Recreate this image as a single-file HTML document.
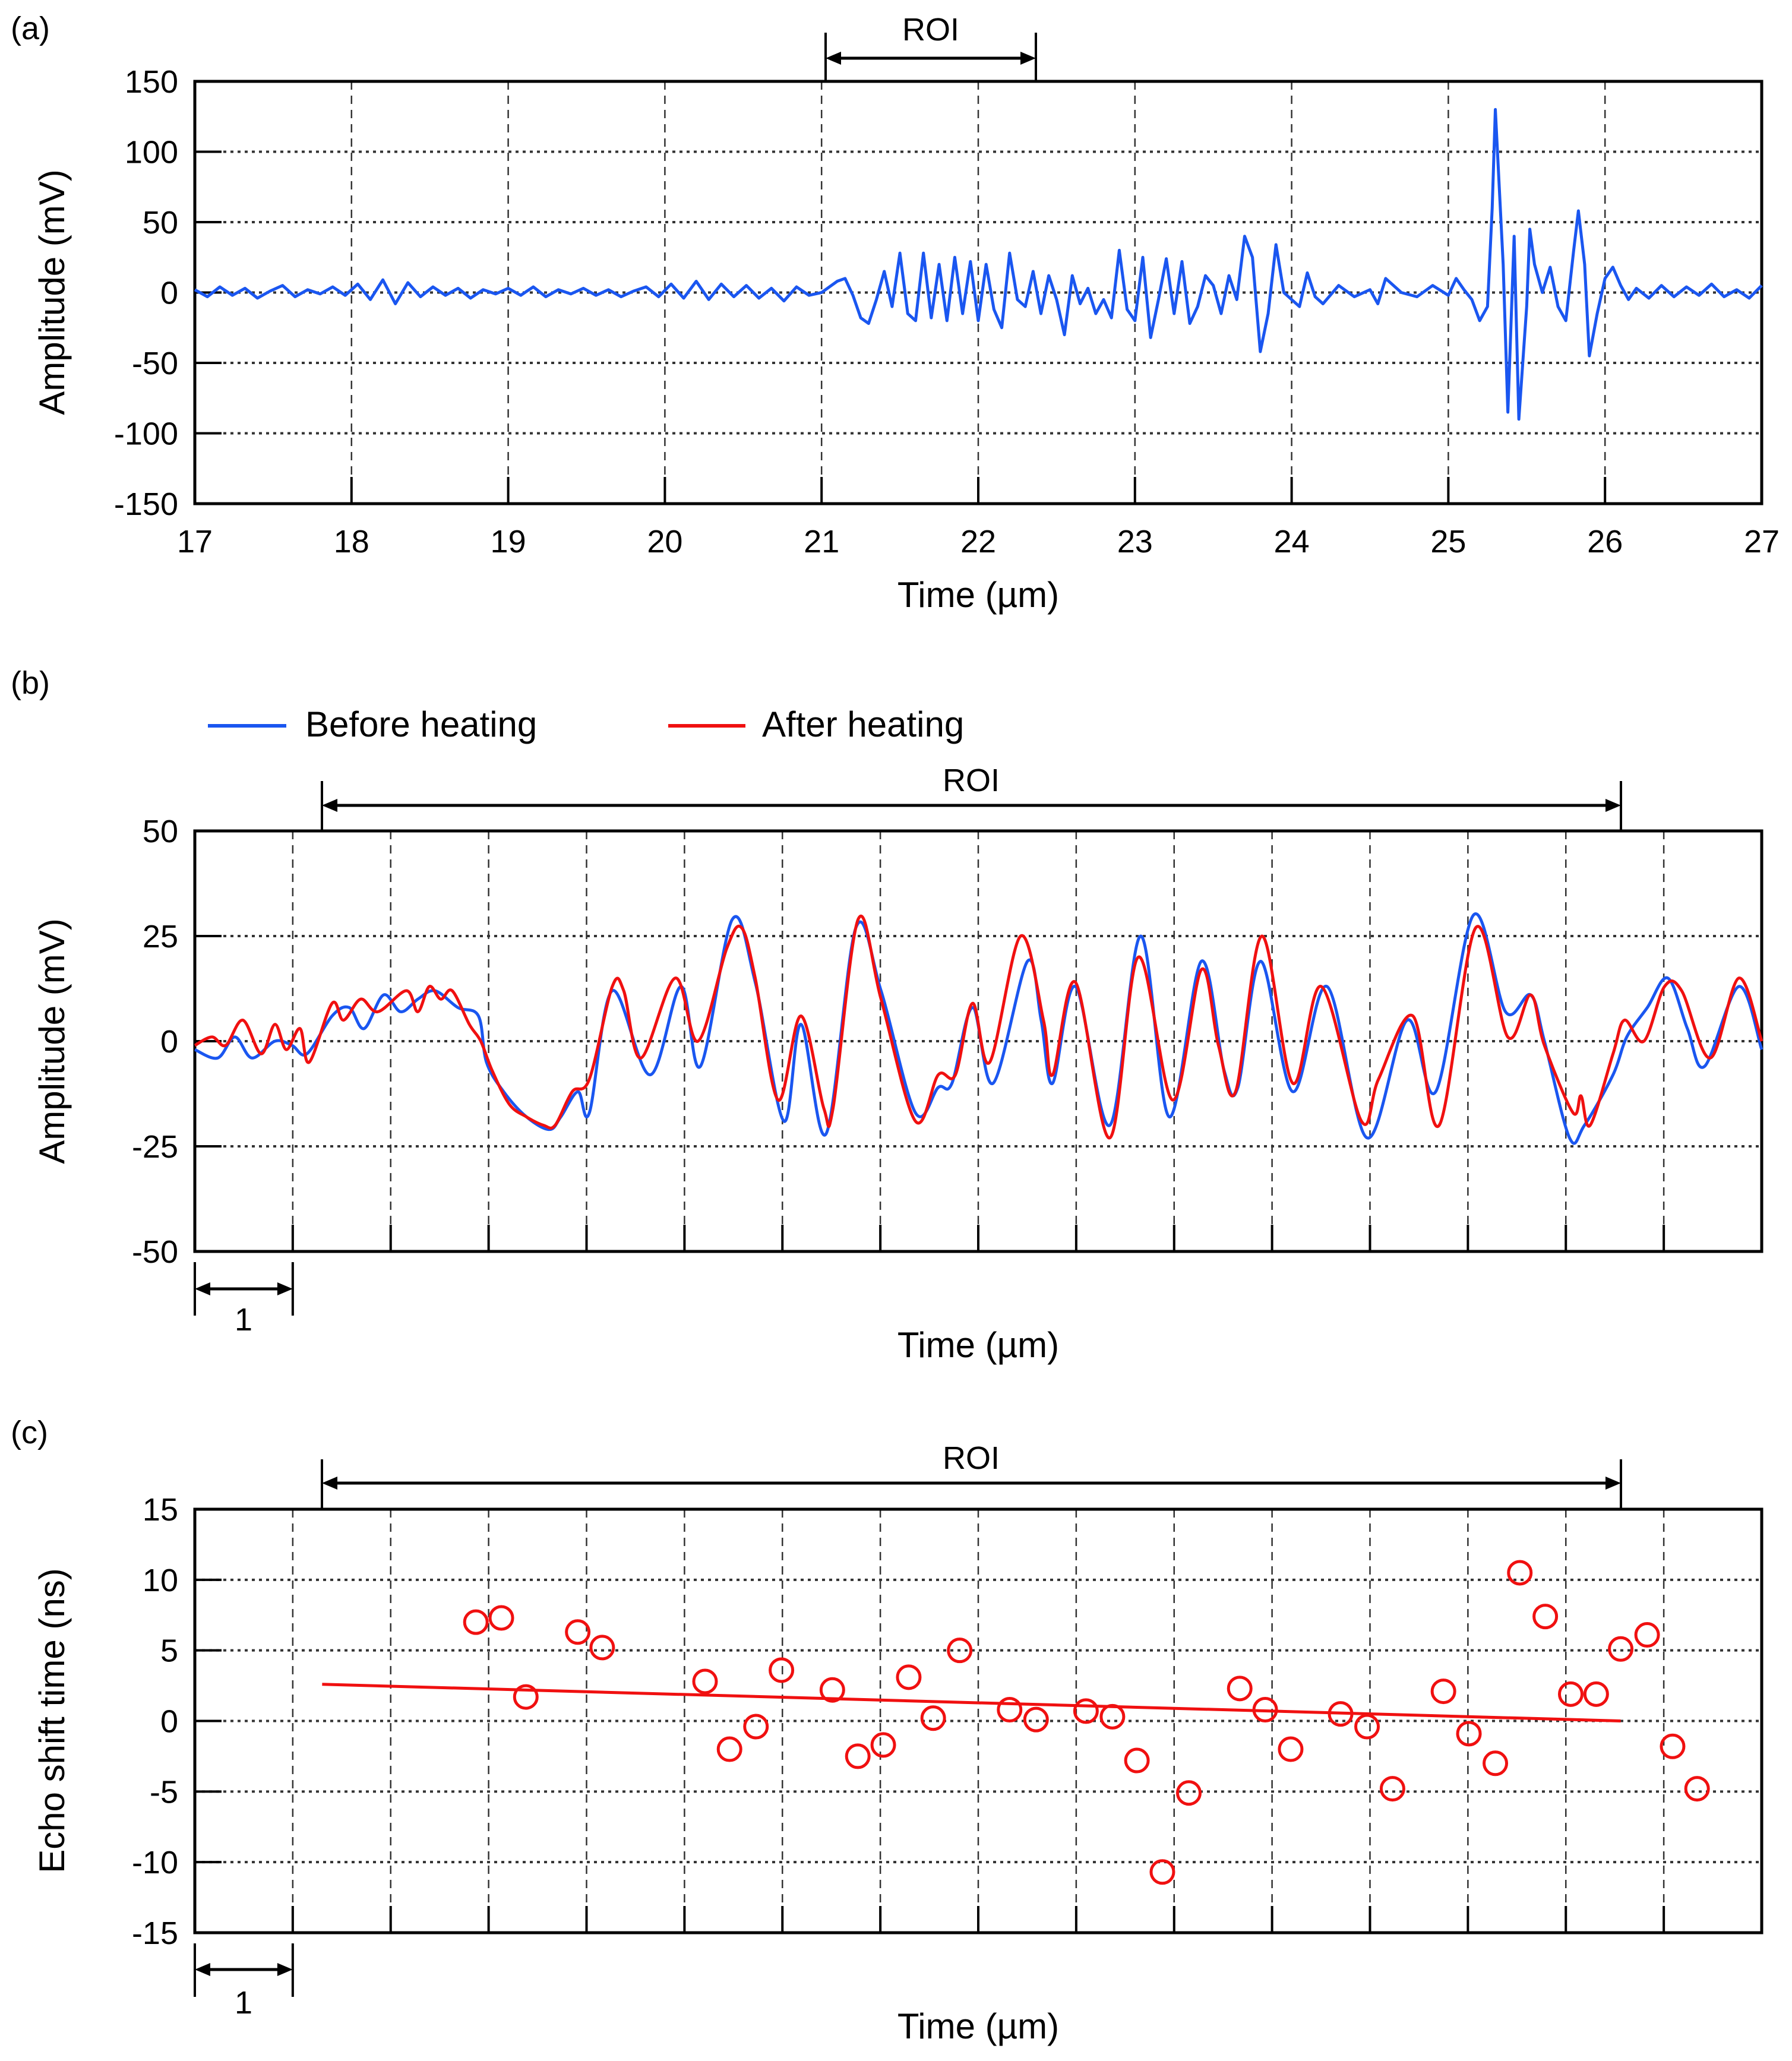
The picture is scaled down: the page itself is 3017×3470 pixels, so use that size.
<!DOCTYPE html>
<html><head><meta charset="utf-8"><style>
html,body{margin:0;padding:0;background:#fff;}
svg{display:block;font-family:"Liberation Sans",Arial,sans-serif;}
</style></head><body>
<svg id="fig" width="3017" height="3470" viewBox="0 0 3017 3470"></svg>
<script>
// ---------- Panel (a) data ----------
const aNoiseStart = 17.0, aNoiseStep = 0.08;
const aNoise = [2,-3,4,-2,3,-4,1,5,-3,2,-1,4,-2,6,-5,9,-8,7,-3,4,-2,3,-4,2,-1,3,-2,4,-3,2,-1,3,-2,2,-3,1,4,-3,6,-4,8,-5,6,-3,5,-4,3,-6,4,-2];
const aActiveT = [21.0,21.1,21.15,21.2,21.25,21.3,21.35,21.4,21.45,21.5,21.55,21.6,21.65,21.7,21.75,21.8,21.85,21.9,21.95,22.0,22.05,22.1,22.15,22.2,22.25,22.3,22.35,22.4,22.45,22.5,22.55,22.6,22.65,22.7,22.75,22.8,22.85,22.9,22.95,23.0,23.05,23.1,23.15,23.2,23.25,23.3,23.35,23.4,23.45,23.5,23.55,23.6,23.65,23.7,23.75,23.8,23.85,23.9,23.95,24.0,24.05,24.1,24.15,24.2,24.3,24.4,24.5,24.55,24.6,24.7,24.8,24.9,25.0,25.05,25.1,25.15,25.2,25.25,25.28,25.3,25.35,25.38,25.42,25.45,25.5,25.52,25.55,25.6,25.65,25.7,25.75,25.8,25.83,25.87,25.9,25.95,26.0,26.05,26.1,26.15];
const aActiveV = [0,8,10,-2,-18,-22,-5,15,-10,28,-15,-20,28,-18,20,-20,25,-15,22,-20,20,-12,-25,28,-5,-10,15,-15,12,-5,-30,12,-8,3,-15,-5,-18,30,-12,-20,25,-32,-5,24,-15,22,-22,-10,12,5,-15,12,-5,40,25,-42,-15,34,0,-5,-10,14,-3,-8,5,-3,2,-8,10,0,-3,5,-2,10,2,-5,-20,-10,60,130,20,-85,40,-90,-10,45,20,0,18,-10,-20,30,58,20,-45,-15,10,18,5,-5];
const aTailStart = 26.2, aTailStep = 0.08;
const aTail = [3,-4,5,-3,4,-2,6,-3,2,-4,5];
const aXTicks = [17,18,19,20,21,22,23,24,25,26,27];
const aYTicks = [150,100,50,0,-50,-100,-150];

// ---------- Panel (b) data (x in sample units 170..1540) ----------
const bBeforeX = [170,190,205,220,240,255,268,290,305,318,335,350,365,380,400,418,425,440,460,480,490,505,515,535,568,595,612,640,660,685,700,722,748,770,800,820,832,850,868,898,910,920,940,970,997,1022,1050,1070,1082,1102,1130,1160,1195,1230,1255,1288,1316,1338,1350,1372,1385,1410,1422,1440,1458,1475,1490,1520,1540];
const bBeforeV = [-2,-4,1,-4,0,-1,-3,6,8,3,11,7,10,12,8,6,-5,-12,-18,-21,-18,-12,-17,12,-8,13,-6,29,14,-19,4,-22,27,12,-17,-11,-10,8,-10,19,5,-10,13,-20,25,-18,19,-7,-11,19,-12,13,-23,5,-12,30,7,11,0,-23,-20,-8,1,8,15,3,-6,13,-2];
const bAfterX = [170,185,197,212,228,240,250,262,270,290,300,315,330,355,365,375,385,395,410,420,430,445,460,475,485,500,515,535,545,560,590,610,635,648,660,680,700,720,728,750,770,800,820,835,850,865,892,912,920,940,970,995,1025,1050,1065,1080,1103,1130,1155,1190,1205,1235,1258,1290,1318,1338,1350,1375,1382,1390,1410,1420,1437,1455,1470,1495,1520,1540];
const bAfterV = [-1,1,-1,5,-3,4,-2,3,-5,9,5,10,7,12,7,13,10,12,4,0,-7,-15,-18,-20,-20,-12,-9,13,12,-4,15,0,22,27,15,-14,6,-16,-16,29,10,-19,-8,-8,9,-5,25,5,-8,14,-23,20,-14,17,-1,-12,25,-10,13,-19,-9,6,-20,27,1,11,-1,-17,-13,-20,-3,5,0,13,12,-4,15,0];
const bYTicks = [50,25,0,-25,-50];

// ---------- Panel (c) data (x in grid units 0..16) ----------
const cX = [2.87,3.13,3.38,3.91,4.16,5.21,5.46,5.73,5.99,6.51,6.77,7.03,7.29,7.54,7.81,8.32,8.59,9.10,9.37,9.62,9.88,10.15,10.67,10.93,11.19,11.70,11.97,12.23,12.75,13.01,13.28,13.53,13.79,14.05,14.31,14.56,14.83,15.09,15.34];
const cY = [7,7.3,1.7,6.3,5.2,2.8,-2,-0.4,3.6,2.2,-2.5,-1.7,3.1,0.2,5,0.8,0.1,0.7,0.3,-2.8,-10.7,-5.1,2.3,0.8,-2,0.5,-0.4,-4.8,2.1,-0.9,-3,10.5,7.4,1.9,1.9,5.1,6.1,-1.8,-4.8];
const cFitX = [1.3,14.56];
const cFitY = [2.6,0.0];
const cYTicks = [15,10,5,0,-5,-10,-15];

const NS = "http://www.w3.org/2000/svg";
const svg = document.getElementById('fig');
function el(tag, attrs, parent){
  const e = document.createElementNS(NS, tag);
  for (const k in attrs) e.setAttribute(k, attrs[k]);
  (parent||svg).appendChild(e);
  return e;
}
function txt(s, x, y, size, anchor, parent){
  const t = el('text', {x:x, y:y, 'font-size':size, 'text-anchor':anchor||'middle', fill:'#000'}, parent);
  t.textContent = s;
  return t;
}
function lin(d0,d1,r0,r1){ return v => r0 + (v-d0)/(d1-d0)*(r1-r0); }
function smoothPath(pts){
  let d = 'M'+pts[0][0]+','+pts[0][1];
  for (let i=0;i<pts.length-1;i++){
    const p0=pts[i-1]||pts[i], p1=pts[i], p2=pts[i+1], p3=pts[i+2]||p2;
    const c1x=p1[0]+(p2[0]-p0[0])/6, c1y=p1[1]+(p2[1]-p0[1])/6;
    const c2x=p2[0]-(p3[0]-p1[0])/6, c2y=p2[1]-(p3[1]-p1[1])/6;
    d += ' C'+c1x+','+c1y+' '+c2x+','+c2y+' '+p2[0]+','+p2[1];
  }
  return d;
}
function arrow(x1,x2,y,g){
  el('line',{x1:x1+6,y1:y,x2:x2-6,y2:y,stroke:'#000','stroke-width':5},g);
  el('polygon',{points:(x1)+','+y+' '+(x1+26)+','+(y-11)+' '+(x1+26)+','+(y+11),fill:'#000'},g);
  el('polygon',{points:(x2)+','+y+' '+(x2-26)+','+(y-11)+' '+(x2-26)+','+(y+11),fill:'#000'},g);
}

const L=328, R=2966;

function frame(top,bot,vgridXs,hgridYs,g){
  vgridXs.forEach(x=>{
    el('line',{x1:x,y1:top,x2:x,y2:bot,stroke:'#333','stroke-width':2.5,'stroke-dasharray':'14,10'},g);
    el('line',{x1:x,y1:bot,x2:x,y2:bot-45,stroke:'#000','stroke-width':4},g);
  });
  hgridYs.forEach(y=>{
    el('line',{x1:L,y1:y,x2:R,y2:y,stroke:'#333','stroke-width':4,'stroke-dasharray':'5,7'},g);
    el('line',{x1:L,y1:y,x2:L+45,y2:y,stroke:'#000','stroke-width':4},g);
  });
  el('rect',{x:L,y:top,width:R-L,height:bot-top,fill:'none',stroke:'#000','stroke-width':5},g);
}

// ================= Panel A =================
const gA = el('g',{});  
const axA = lin(17,27,L,R), ayA = lin(-150,150,848,137);
frame(137,848, aXTicks.slice(1,-1).map(axA), aYTicks.slice(1,-1).map(ayA), gA);
aXTicks.forEach(t=>{ const tt=txt(String(t), axA(t), 930, 54,'middle',gA);   });
aYTicks.forEach(t=>{ const tt=txt(String(t), 300, ayA(t)+19, 54,'end',gA);   });
{
  const pts=[];
  aNoise.forEach((v,i)=>pts.push([axA(aNoiseStart+i*aNoiseStep), ayA(v)]));
  aActiveT.forEach((t,i)=>pts.push([axA(t), ayA(aActiveV[i])]));
  aTail.forEach((v,i)=>pts.push([axA(aTailStart+i*aTailStep), ayA(v)]));
  const p = el('polyline',{points:pts.map(p=>p.join(',')).join(' '),fill:'none',stroke:'#1a56f0','stroke-width':5,'stroke-linejoin':'round'},gA);
   
}
{
  const g = el('g',{},gA);  
  el('line',{x1:1390,y1:55,x2:1390,y2:137,stroke:'#000','stroke-width':4},g);
  el('line',{x1:1744,y1:55,x2:1744,y2:137,stroke:'#000','stroke-width':4},g);
  arrow(1390,1744,98,g);
  txt('ROI',1567,68,54,'middle',g);
}
{ const t=txt('Time (µm)',1647,1022,60,'middle',gA);  
  const y=txt('Amplitude (mV)',0,0,60,'middle',gA); y.setAttribute('transform','translate(108,492) rotate(-90)');  
  const l=txt('(a)',18,66,54,'start',gA);   }

// ================= Panel B =================
const gB = el('g',{});  
const step = (R-L)/16;
const vX = []; for(let i=1;i<16;i++) vX.push(L+i*step);
const axB = lin(170,1540,L,R), ayB = lin(-50,50,2107,1399);
frame(1399,2107,vX,bYTicks.slice(1,-1).map(ayB),gB);
bYTicks.forEach(t=>{ const tt=txt(String(t),300,ayB(t)+19,54,'end',gB);   });
{
  const pb = el('path',{d:smoothPath(bBeforeX.map((x,i)=>[axB(x),ayB(bBeforeV[i])])),fill:'none',stroke:'#1a56f0','stroke-width':5,'stroke-linejoin':'round'},gB);
   
  const pa = el('path',{d:smoothPath(bAfterX.map((x,i)=>[axB(x),ayB(bAfterV[i])])),fill:'none',stroke:'#f01010','stroke-width':5,'stroke-linejoin':'round'},gB);
   
}
{
  const lg = el('g',{},gB);  
  const e1 = el('g',{},lg);  
  el('line',{x1:350,y1:1222,x2:482,y2:1222,stroke:'#1a56f0','stroke-width':6},e1);
  txt('Before heating',514,1240,60,'start',e1);
  const e2 = el('g',{},lg);  
  el('line',{x1:1125,y1:1222,x2:1255,y2:1222,stroke:'#f01010','stroke-width':6},e2);
  txt('After heating',1283,1240,60,'start',e2);
}
{
  const g = el('g',{},gB);  
  el('line',{x1:542,y1:1315,x2:542,y2:1399,stroke:'#000','stroke-width':4},g);
  el('line',{x1:2729,y1:1315,x2:2729,y2:1399,stroke:'#000','stroke-width':4},g);
  arrow(542,2729,1356,g);
  txt('ROI',1635,1332,54,'middle',g);
  const s = el('g',{},gB);  
  el('line',{x1:L,y1:2125,x2:L,y2:2215,stroke:'#000','stroke-width':4},s);
  el('line',{x1:L+step,y1:2125,x2:L+step,y2:2215,stroke:'#000','stroke-width':4},s);
  arrow(L,L+step,2170,s);
  txt('1',410,2240,54,'middle',s);
}
{ const t=txt('Time (µm)',1647,2285,60,'middle',gB);  
  const y=txt('Amplitude (mV)',0,0,60,'middle',gB); y.setAttribute('transform','translate(108,1753) rotate(-90)');  
  const l=txt('(b)',18,1168,54,'start',gB);   }

// ================= Panel C =================
const gC = el('g',{});  
const axC = lin(0,16,L,R), ayC = lin(-15,15,3254,2541);
frame(2541,3254,vX,cYTicks.slice(1,-1).map(ayC),gC);
cYTicks.forEach(t=>{ const tt=txt(String(t),300,ayC(t)+19,54,'end',gC);   });
{
  const f = el('line',{x1:axC(cFitX[0]),y1:ayC(cFitY[0]),x2:axC(cFitX[1]),y2:ayC(cFitY[1]),stroke:'#f01010','stroke-width':5},gC);
   
  cX.forEach((x,i)=>{
    const c = el('circle',{cx:axC(x),cy:ayC(cY[i]),r:19,fill:'none',stroke:'#f01010','stroke-width':5},gC);
    
    
  });
}
{
  const g = el('g',{},gC);  
  el('line',{x1:542,y1:2457,x2:542,y2:2541,stroke:'#000','stroke-width':4},g);
  el('line',{x1:2729,y1:2457,x2:2729,y2:2541,stroke:'#000','stroke-width':4},g);
  arrow(542,2729,2497,g);
  txt('ROI',1635,2473,54,'middle',g);
  const s = el('g',{},gC);  
  el('line',{x1:L,y1:3272,x2:L,y2:3362,stroke:'#000','stroke-width':4},s);
  el('line',{x1:L+step,y1:3272,x2:L+step,y2:3362,stroke:'#000','stroke-width':4},s);
  arrow(L,L+step,3316,s);
  txt('1',410,3390,54,'middle',s);
}
{ const t=txt('Time (µm)',1647,3432,60,'middle',gC);  
  const y=txt('Echo shift time (ns)',0,0,60,'middle',gC); y.setAttribute('transform','translate(108,2897) rotate(-90)');  
  const l=txt('(c)',18,2430,54,'start',gC);   }
</script>
</body></html>
